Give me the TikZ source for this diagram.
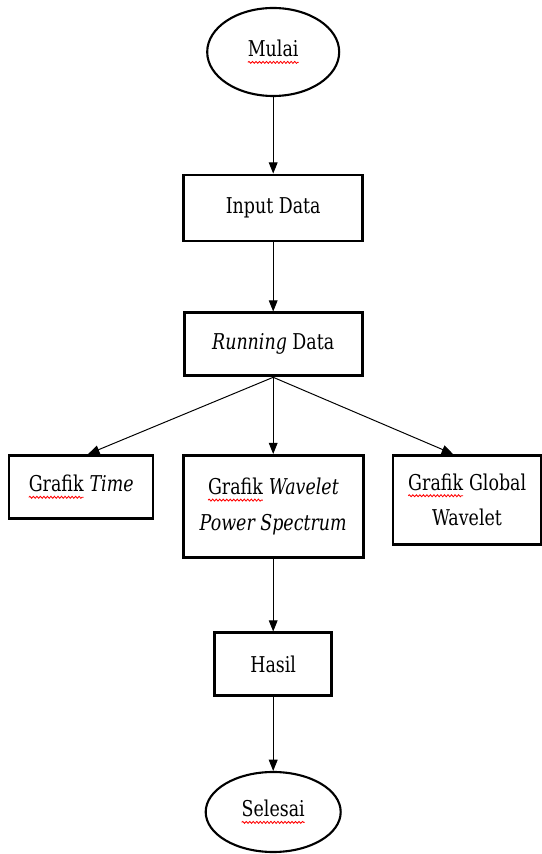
\documentclass[tikz,border=0pt]{standalone}
\usepackage{fontspec}
\setmainfont{DejaVu Serif}[FakeStretch=0.8]
\usepackage{tikz}
\usetikzlibrary{arrows.meta,calc,positioning,shapes,decorations.pathmorphing}
\usepackage{xcolor}

% red wavy underline, as in the reference
\newcommand{\redwave}[1]{\tikz[baseline=(w.base)]{%
	\node[shape=rectangle, draw=none, inner sep=0pt, outer sep=0pt, minimum width=0pt, minimum height=0pt] (w) {#1};
	\draw[red, line width=0.6pt, decorate, decoration={snake, amplitude=0.7pt, segment length=2.5pt}]
		([yshift=-4pt]w.base west) -- ([yshift=-4pt]w.base east);}}

\begin{document}
\begin{tikzpicture}[
		terminal/.style={ellipse, draw, line width=1.5pt, minimum width=3.3cm, minimum height=2.2cm, inner sep=0pt},
		process/.style={rectangle, draw, line width=2pt, inner sep=2pt, align=center},
		flow/.style={-{Triangle[length=0.28cm,width=0.22cm]}, line width=0.7pt},
		font=\fontsize{15.5}{25.5}\selectfont
		]
	\useasboundingbox (0,0) rectangle (13.55,21.35);

	\node[terminal] (mulai) at (6.83, 20.05) {\redwave{Mulai}};
	\node[process, minimum width=4.475cm, minimum height=1.65cm] (input) at (6.83, 16.15) {Input Data};
	\node[process, minimum width=4.45cm, minimum height=1.575cm] (running) at (6.83, 12.74) {\textit{Running} Data};
	\node[process, minimum width=3.6cm, minimum height=1.575cm, anchor=north] (time) at (2.025, 10.0) {\redwave{Grafik} \textit{Time}};
	\node[process, minimum width=4.5cm, minimum height=2.55cm, anchor=north] (wavelet) at (6.83, 10.0) {\redwave{Grafik} \textit{Wavelet}\\ \textit{Power Spectrum}};
	\node[process, minimum width=3.7cm, minimum height=2.225cm, anchor=north] (global) at (11.675, 10.0) {\redwave{Grafik} Global\\ Wavelet};
	\node[process, minimum width=2.925cm, minimum height=1.575cm] (hasil) at (6.83, 4.74) {Hasil};
	\node[terminal, minimum width=3.375cm, minimum height=2.0cm] (selesai) at (6.83, 1.05) {\redwave{Selesai}};

	\draw[flow] (mulai) -- (input);
	\draw[flow] (input) -- (running);
	\draw[flow] (running.south) -- ([xshift=0.18cm]time.north);
	\draw[flow] (running.south) -- (wavelet.north);
	\draw[flow] (running.south) -- ([xshift=-0.35cm]global.north);
	\draw[flow] (wavelet) -- (hasil);
	\draw[flow] (hasil) -- (selesai);

\end{tikzpicture}
\end{document}
